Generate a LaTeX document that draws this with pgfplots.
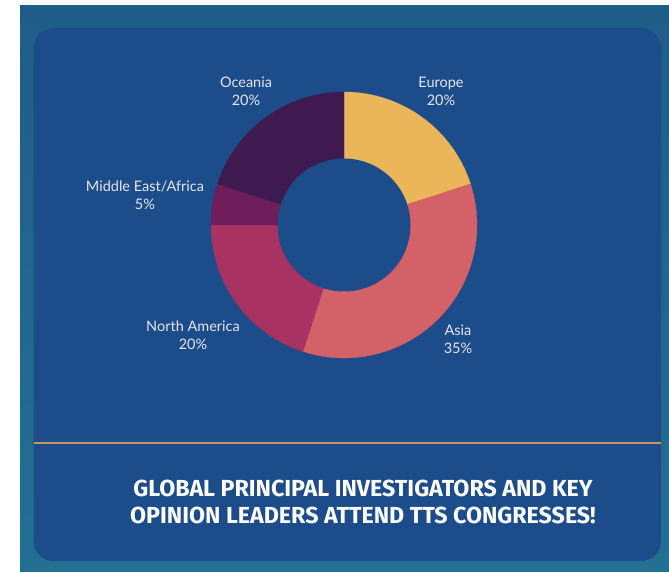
\documentclass[border=0pt]{standalone}
\usepackage{pgfplots}
\pgfplotsset{compat=1.18}
\usepackage{fontspec}
\setmainfont{Lato}
\newfontfamily\titlefont{Fira Sans}
\definecolor{tealA}{HTML}{1E5D87}
\definecolor{tealB}{HTML}{237093}
\definecolor{innerblue}{HTML}{1C4C89}
\definecolor{sepcol}{HTML}{C9955C}
\definecolor{labelcol}{HTML}{E4E6EE}
\definecolor{cEu}{HTML}{EBB559}
\definecolor{cAs}{HTML}{D46168}
\definecolor{cNA}{HTML}{A83262}
\definecolor{cME}{HTML}{6F1D5B}
\definecolor{cOc}{HTML}{3E1A51}
% shares in percent, clockwise from 12 o'clock
\def\vEu{20}\def\vAs{35}\def\vNA{20}\def\vME{5}\def\vOc{20}
\newcommand\slice[3]{\addplot[draw=#3, line width=0.3pt, fill=#3, domain={90-3.6*(#2)}:{90-3.6*(#1)}, samples=90, variable=\t] ({cos(\t)},{sin(\t)}) -- (0,0) -- cycle;}
\begin{document}
\begin{tikzpicture}[x=1pt,y=1pt]
\pgfmathsetmacro\cA{\vEu}
\pgfmathsetmacro\cB{\cA+\vAs}
\pgfmathsetmacro\cC{\cB+\vNA}
\pgfmathsetmacro\cD{\cC+\vME}
\pgfmathsetmacro\cE{\cD+\vOc}
\fill[white] (0,0) rectangle (669,572);
\shade[top color=tealA, bottom color=tealB] (20,0) rectangle (669,566);
\fill[innerblue, rounded corners=20pt] (33.5,11) rectangle (661,544);
\draw[sepcol, line width=1.5pt] (34,129) -- (661,129);
\begin{axis}[at={(344pt,347pt)}, anchor=center, hide axis, scale only axis,
  width=266pt, height=266pt, xmin=-1, xmax=1, ymin=-1, ymax=1, clip=false]
\slice{0}{\cA}{cEu}
\slice{\cA}{\cB}{cAs}
\slice{\cB}{\cC}{cNA}
\slice{\cC}{\cD}{cME}
\slice{\cD}{\cE}{cOc}
\addplot[draw=none, fill=innerblue, domain=0:360, samples=150, variable=\t] ({0.5*cos(\t)},{0.5*sin(\t)}) -- cycle;
\end{axis}
\begin{scope}[every node/.style={text=labelcol, align=center, font=\fontsize{14.5}{18}\selectfont}]
\node at (246,481) {Oceania\\20\%};
\node at (441,481) {Europe\\20\%};
\node at (145,377) {Middle East/Africa\\5\%};
\node at (193,237) {North America\\20\%};
\node at (458,232.5) {Asia\\35\%};
\end{scope}
\node[text=white, align=center, font=\titlefont\bfseries\fontsize{23.2}{27}\selectfont] at (363,70.5)
  {GLOBAL PRINCIPAL INVESTIGATORS AND KEY\\OPINION LEADERS ATTEND TTS CONGRESSES!};
\end{tikzpicture}
\end{document}
